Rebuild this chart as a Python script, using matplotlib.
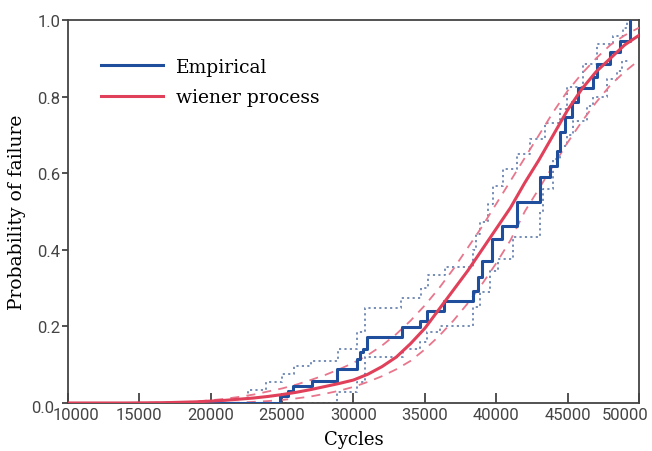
import matplotlib
matplotlib.use("Agg")
import matplotlib.pyplot as plt
import matplotlib.transforms as mtransforms

# ---- data ----
emp_cycles = [10000, 24850, 25400, 25750, 27100, 28850, 30250, 30450, 30650, 30950,
              33400, 34650, 35150, 36350, 38350, 38700, 39000, 39700, 40400, 41450,
              43050, 43750, 44250, 44450, 44800, 45300, 45750, 46800, 47050, 47950,
              48650, 49350]
emp_prob = [0, 0.018, 0.031, 0.044, 0.057, 0.089, 0.115, 0.133, 0.141, 0.172,
            0.198, 0.214, 0.24, 0.266, 0.292, 0.33, 0.37, 0.428, 0.462, 0.525,
            0.59, 0.62, 0.658, 0.708, 0.747, 0.786, 0.822, 0.851, 0.885, 0.916,
            0.945, 1.0]

emp_up_cycles = [10000, 22600, 23900, 25000, 25800, 27000, 28900, 30250, 30800, 33300,
                 34700, 35200, 36400, 38350, 38600, 38850, 39400, 39750, 40450, 41450,
                 42350, 43400, 44450, 44950, 46100, 47050, 48200, 48900, 49150]
emp_up_prob = [0, 0.035, 0.055, 0.075, 0.097, 0.11, 0.141, 0.185, 0.248, 0.274,
               0.30, 0.335, 0.355, 0.40, 0.44, 0.473, 0.52, 0.567, 0.61, 0.65,
               0.69, 0.73, 0.768, 0.825, 0.885, 0.937, 0.958, 0.98, 1.0]

emp_lo_cycles = [10000, 28850, 30250, 30800, 33450, 34650, 35150, 36050, 38350, 38850,
                 39550, 40100, 41150, 43050, 43250, 43950, 44450, 44950, 45400, 46350,
                 46800, 47750, 48450, 48800, 49400]
emp_lo_prob = [0, 0.029, 0.055, 0.12, 0.141, 0.159, 0.185, 0.2, 0.25, 0.29,
               0.345, 0.376, 0.433, 0.5, 0.56, 0.637, 0.67, 0.70, 0.736, 0.775,
               0.80, 0.846, 0.867, 0.893, 0.893]

wp_cycles = [10000, 12000, 14000, 16000, 17000, 18000, 19000, 20000, 21000, 22000,
             23000, 24000, 25000, 26000, 27000, 28000, 29000, 30000, 31000, 32000,
             33000, 34000, 35000, 36000, 37000, 38000, 39000, 40000, 41000, 42000,
             43000, 44000, 45000, 46000, 47000, 48000, 49000, 50000]
wp_prob = [0, 0, 0, 0.0005, 0.001, 0.002, 0.003, 0.005, 0.007, 0.010,
           0.013, 0.017, 0.022, 0.028, 0.035, 0.043, 0.051, 0.060, 0.075, 0.095,
           0.120, 0.155, 0.195, 0.245, 0.295, 0.345, 0.400, 0.455, 0.510, 0.575,
           0.635, 0.700, 0.765, 0.820, 0.865, 0.900, 0.935, 0.960]
wp_up_prob = [0, 0, 0, 0.001, 0.0015, 0.002, 0.004, 0.007, 0.011, 0.016,
              0.022, 0.030, 0.038, 0.048, 0.060, 0.073, 0.088, 0.105, 0.125, 0.150,
              0.180, 0.215, 0.255, 0.300, 0.350, 0.405, 0.460, 0.520, 0.580, 0.640,
              0.700, 0.760, 0.815, 0.860, 0.900, 0.935, 0.960, 0.980]
wp_lo_prob = [0, 0, 0, 0, 0, 0, 0, 0, 0, 0.001,
              0.003, 0.005, 0.008, 0.012, 0.017, 0.024, 0.032, 0.042, 0.055, 0.070,
              0.088, 0.110, 0.140, 0.175, 0.215, 0.260, 0.310, 0.365, 0.425, 0.500,
              0.560, 0.620, 0.680, 0.735, 0.785, 0.830, 0.865, 0.895]

x_ticks = [10000, 15000, 20000, 25000, 30000, 35000, 40000, 45000, 50000]
y_ticks = [0.0, 0.2, 0.4, 0.6, 0.8, 1.0]

# ---- styling ----
BLUE = "#1f4f9c"
DOT = "#6a84b0"
RED = "#e0405a"
RED_D = "#e8768c"
SERIF = "DejaVu Serif"

fig = plt.figure(figsize=(6.52, 4.52), dpi=100)
ax = fig.add_axes([0.1043, 0.1062, 0.8757, 0.8473])

ax.step(emp_up_cycles, emp_up_prob, where="post", color=DOT, lw=1.3,
        linestyle=(0, (1.2, 1.8)), zorder=2)
ax.step(emp_lo_cycles, emp_lo_prob, where="post", color=DOT, lw=1.3,
        linestyle=(0, (1.2, 1.8)), zorder=2)
ax.plot(wp_cycles, wp_up_prob, color=RED_D, lw=1.3, linestyle=(0, (5, 4)), zorder=3)
ax.plot(wp_cycles, wp_lo_prob, color=RED_D, lw=1.3, linestyle=(0, (5, 4)), zorder=3)
l_emp, = ax.step(emp_cycles, emp_prob, where="post", color=BLUE, lw=2.2,
                 zorder=4, label="Empirical")
l_wp, = ax.plot(wp_cycles, wp_prob, color=RED, lw=2.2, zorder=5,
                label="wiener process")

ax.set_xlim(10000, 50000)
ax.set_ylim(0, 1.0)
ax.set_xticks(x_ticks)
ax.set_xticklabels([str(v) for v in x_ticks])
ax.set_yticks(y_ticks)
ax.set_yticklabels([f"{v:.1f}" for v in y_ticks])

ax.tick_params(axis="x", direction="in", length=7, width=1.2, colors="#333333",
               labelsize=12, pad=3)
ax.tick_params(axis="y", direction="out", length=4, width=1.2, colors="#333333",
               labelsize=12, pad=1.5)
for lab in ax.get_xticklabels() + ax.get_yticklabels():
    lab.set_family("Roboto")
    lab.set_color("#444444")

# shift edge x tick labels inward like the reference
xl = ax.get_xticklabels()
xl[0].set_transform(xl[0].get_transform() +
                    mtransforms.ScaledTranslation(8 / 100, 0, fig.dpi_scale_trans))
xl[-1].set_transform(xl[-1].get_transform() +
                     mtransforms.ScaledTranslation(-14 / 100, 0, fig.dpi_scale_trans))
yl = ax.get_yticklabels()
yl[0].set_transform(yl[0].get_transform() +
                    mtransforms.ScaledTranslation(-6 / 100, -3 / 100, fig.dpi_scale_trans))

for s in ax.spines.values():
    s.set_color("#444444")
    s.set_linewidth(1.3)

ax.set_xlabel("Cycles", family=SERIF, fontsize=13, labelpad=6)
ax.set_ylabel("Probability of failure", family=SERIF, fontsize=13.5, labelpad=4)

leg = ax.legend(handles=[l_emp, l_wp], loc="upper left",
                bbox_to_anchor=(0.028, 0.945), frameon=False,
                prop={"family": SERIF, "size": 13.5},
                handlelength=3.3, handletextpad=0.7, labelspacing=0.65)
for h in leg.get_lines():
    h.set_linewidth(2.2)

fig.savefig("out.png", dpi=100)
